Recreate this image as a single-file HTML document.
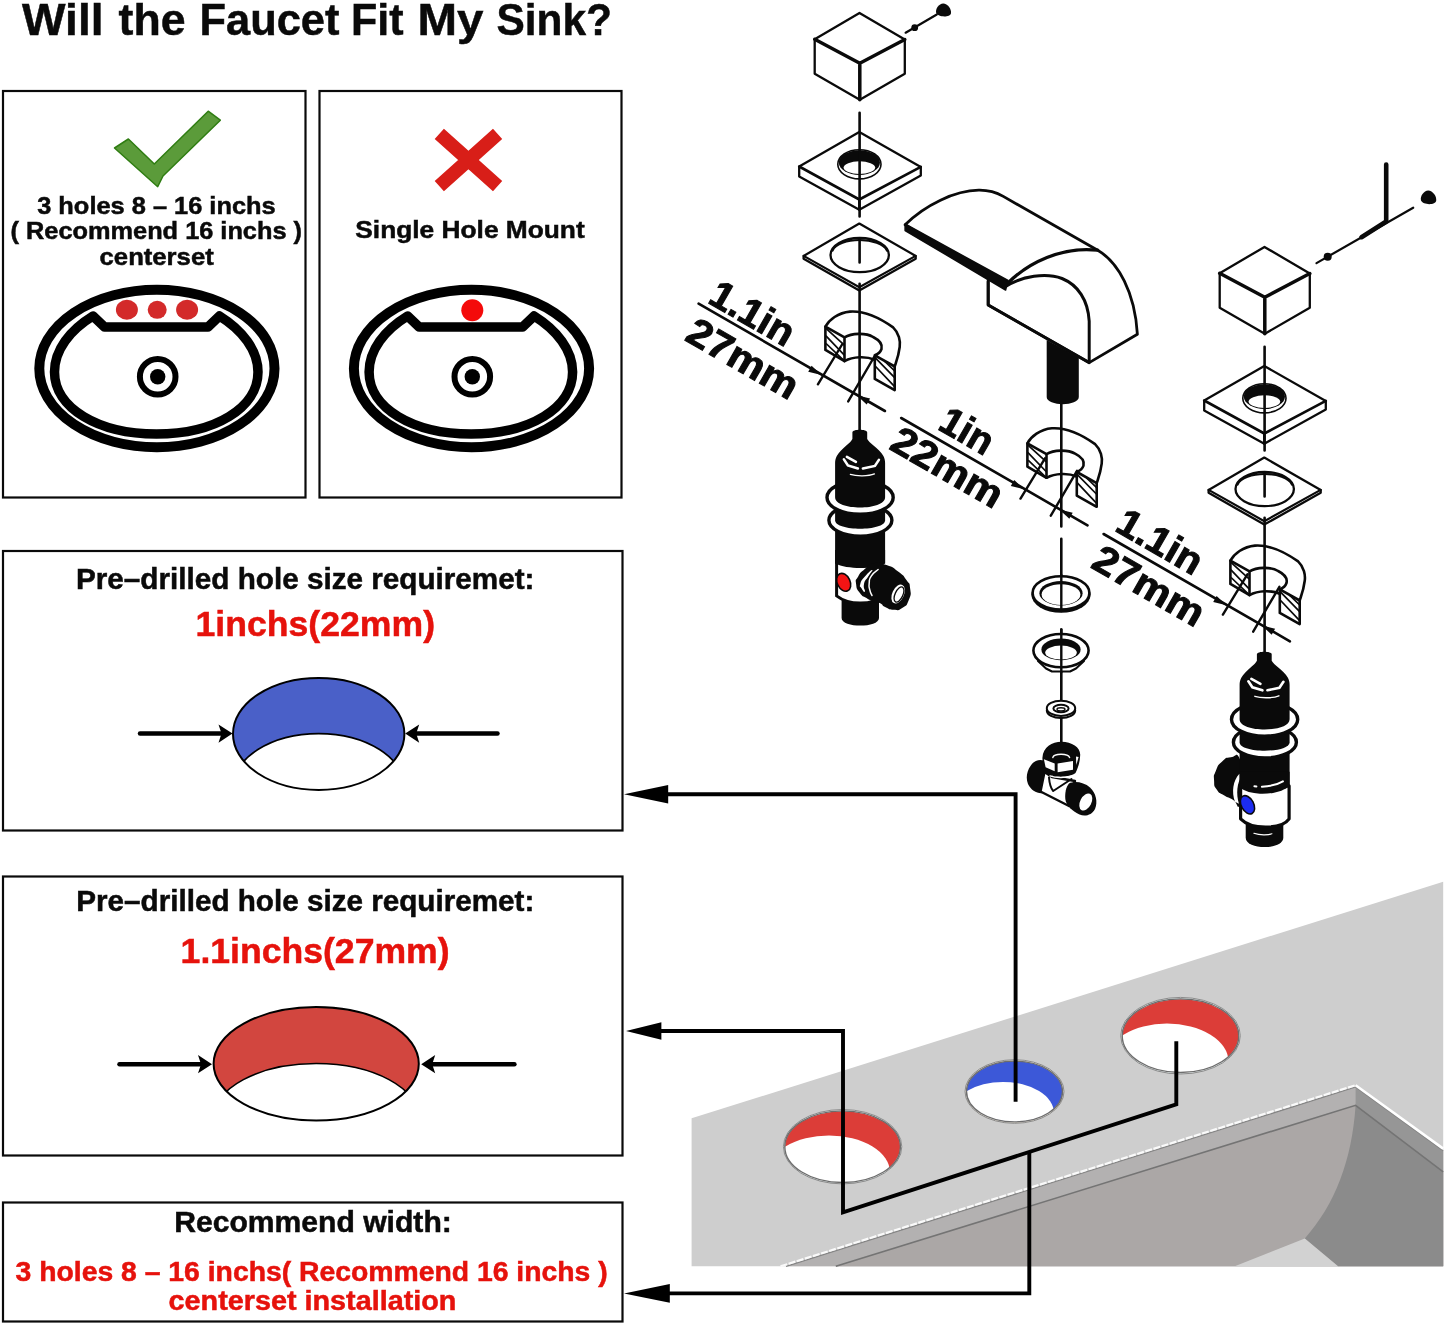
<!DOCTYPE html>
<html lang="en">
<head>
<meta charset="utf-8">
<title>Will the Faucet Fit My Sink?</title>
<style>
html,body{margin:0;padding:0;background:#fff;}
body{width:1445px;height:1324px;overflow:hidden;}
svg{display:block;will-change:transform;transform:translateZ(0);}
text{font-family:"Liberation Sans",sans-serif;font-weight:bold;}
.k{fill:#0a0a0a;}
text.k{stroke:#0a0a0a;stroke-width:.5px;}
text.r{stroke:#e6120c;stroke-width:.5px;}
g.k text{stroke:#0a0a0a;stroke-width:1px;}
.r{fill:#e6120c;}
.ln{fill:none;stroke:#0a0a0a;stroke-width:2.5;stroke-linejoin:round;stroke-linecap:round;}
.ln3{fill:none;stroke:#0a0a0a;stroke-width:3.5;stroke-linejoin:round;stroke-linecap:round;}
.th{fill:none;stroke:#0a0a0a;stroke-width:2.2;stroke-linecap:round;}
.w{fill:#fff;stroke:#0a0a0a;stroke-width:2.3;stroke-linejoin:round;}
.box{fill:#fff;stroke:#0a0a0a;stroke-width:2.2;}
.ar{fill:none;stroke:#000;stroke-width:3.9;stroke-linejoin:miter;}
</style>
</head>
<body>
<svg width="1445" height="1324" viewBox="0 0 1445 1324">
<rect width="1445" height="1324" fill="#fff"/>
<!-- ===== Title ===== -->
<text y="34.6" font-size="45" class="k"><tspan x="22" textLength="81.5" lengthAdjust="spacingAndGlyphs">Will</tspan> <tspan x="118.6" textLength="67" lengthAdjust="spacingAndGlyphs">the</tspan> <tspan x="199.5" textLength="140" lengthAdjust="spacingAndGlyphs">Faucet</tspan> <tspan x="351" textLength="52.5" lengthAdjust="spacingAndGlyphs">Fit</tspan> <tspan x="417.5" textLength="66" lengthAdjust="spacingAndGlyphs">My</tspan> <tspan x="496.5" textLength="115.5" lengthAdjust="spacingAndGlyphs">Sink?</tspan></text>

<!-- ===== Box 1 : 3 holes ===== -->
<rect class="box" x="3" y="91" width="302.5" height="406.5"/>
<path d="M114.5,148 L128.4,139 L154.3,164 L208.2,111.2 L220.3,120.2 L163,176 L157.7,186.7 Z" fill="#5b9b3a" stroke="#2f7d12" stroke-width="1.5" stroke-linejoin="round"/>
<text x="37.2" y="213.7" font-size="24.3" textLength="238.5" lengthAdjust="spacingAndGlyphs" class="k">3 holes 8 – 16 inchs</text>
<text x="10.6" y="239.1" font-size="24.3" textLength="291.4" lengthAdjust="spacingAndGlyphs" class="k">( Recommend 16 inchs )</text>
<text x="99.6" y="264.6" font-size="24.3" textLength="114.1" lengthAdjust="spacingAndGlyphs" class="k">centerset</text>
<g id="sinkA">
  <ellipse cx="156.9" cy="368.5" rx="117.6" ry="78.8" fill="none" stroke="#000" stroke-width="10"/>
  <path d="M93,316 C70,330 54.5,350 54.5,372 C54.5,408 98,434 156.5,434 C215,434 258,408 258,372 C258,350 242,330 219.5,316 L208,327 L104.5,327 Z" fill="none" stroke="#000" stroke-width="9.5" stroke-linejoin="round" stroke-linecap="round"/>
  <circle cx="157.7" cy="376.7" r="17.8" fill="#fff" stroke="#000" stroke-width="6"/>
  <circle cx="157.7" cy="376.7" r="7.7" fill="#000"/>
</g>
<ellipse cx="126.9" cy="309.8" rx="11" ry="10" fill="#d32a2a"/>
<ellipse cx="157.2" cy="309.8" rx="9.5" ry="9" fill="#d32a2a"/>
<ellipse cx="187.1" cy="309.8" rx="11" ry="10" fill="#d32a2a"/>

<!-- ===== Box 2 : single hole ===== -->
<rect class="box" x="319.5" y="91" width="302" height="406.5"/>
<path d="M439.3,133.8 L497.6,186.2 M497.6,133.8 L439.3,186.2" fill="none" stroke="#d81e18" stroke-width="13.8" stroke-linecap="butt"/>
<text x="355.3" y="237.6" font-size="24.3" textLength="229.4" lengthAdjust="spacingAndGlyphs" class="k">Single Hole Mount</text>
<g transform="translate(314.6,0)">
  <ellipse cx="156.9" cy="368.5" rx="117.6" ry="78.8" fill="none" stroke="#000" stroke-width="10"/>
  <path d="M93,316 C70,330 54.5,350 54.5,372 C54.5,408 98,434 156.5,434 C215,434 258,408 258,372 C258,350 242,330 219.5,316 L208,327 L104.5,327 Z" fill="none" stroke="#000" stroke-width="9.5" stroke-linejoin="round" stroke-linecap="round"/>
  <circle cx="157.7" cy="376.7" r="17.8" fill="#fff" stroke="#000" stroke-width="6"/>
  <circle cx="157.7" cy="376.7" r="7.7" fill="#000"/>
</g>
<circle cx="472.3" cy="310.3" r="11" fill="#f40a0a"/>

<!-- ===== Box 3 : 22mm ===== -->
<rect class="box" x="3" y="551" width="619.5" height="279.5"/>
<text x="76" y="589.3" font-size="29.6" textLength="458.5" lengthAdjust="spacingAndGlyphs" class="k">Pre–drilled hole size requiremet:</text>
<text x="195.5" y="635.8" font-size="35.5" textLength="239.5" lengthAdjust="spacingAndGlyphs" class="r">1inchs(22mm)</text>
<clipPath id="cpB"><ellipse cx="318.7" cy="733.9" rx="85.7" ry="56"/></clipPath>
<ellipse cx="318.7" cy="733.9" rx="85.7" ry="56" fill="#4a60c8"/>
<ellipse cx="318.7" cy="788" rx="86" ry="54.4" fill="#fff" stroke="#000" stroke-width="1.6" clip-path="url(#cpB)"/>
<ellipse cx="318.7" cy="733.9" rx="85.7" ry="56" fill="none" stroke="#000" stroke-width="2"/>
<path d="M140,733.6 H222" class="ar" style="stroke-width:4.5" stroke-linecap="round"/>
<path d="M232.5,733.6 L218.5,724.5 L221.5,733.6 L218.5,742.7 Z" fill="#000"/>
<path d="M497.5,733.6 H416" class="ar" style="stroke-width:4.5" stroke-linecap="round"/>
<path d="M405.2,733.6 L419.2,724.5 L416.2,733.6 L419.2,742.7 Z" fill="#000"/>

<!-- ===== Box 4 : 27mm ===== -->
<rect class="box" x="3" y="876.5" width="619.5" height="279"/>
<text x="76.3" y="911" font-size="29.6" textLength="458" lengthAdjust="spacingAndGlyphs" class="k">Pre–drilled hole size requiremet:</text>
<text x="180.6" y="963" font-size="35.5" textLength="269" lengthAdjust="spacingAndGlyphs" class="r">1.1inchs(27mm)</text>
<clipPath id="cpR"><ellipse cx="316.2" cy="1063.7" rx="102.6" ry="56.7"/></clipPath>
<ellipse cx="316.2" cy="1063.7" rx="102.6" ry="56.7" fill="#d2463f"/>
<ellipse cx="316.2" cy="1118.5" rx="103" ry="55" fill="#fff" stroke="#000" stroke-width="1.6" clip-path="url(#cpR)"/>
<ellipse cx="316.2" cy="1063.7" rx="102.6" ry="56.7" fill="none" stroke="#000" stroke-width="2"/>
<path d="M119.5,1064.2 H201" class="ar" style="stroke-width:4.5" stroke-linecap="round"/>
<path d="M212,1064.2 L198,1055.1 L201,1064.2 L198,1073.3 Z" fill="#000"/>
<path d="M514.4,1064.2 H432" class="ar" style="stroke-width:4.5" stroke-linecap="round"/>
<path d="M421.2,1064.2 L435.2,1055.1 L432.2,1064.2 L435.2,1073.3 Z" fill="#000"/>

<!-- ===== Box 5 : recommend ===== -->
<rect class="box" x="3" y="1202.5" width="619.5" height="119"/>
<text x="174.2" y="1232.2" font-size="29.2" textLength="277.6" lengthAdjust="spacingAndGlyphs" class="k">Recommend width:</text>
<text x="15.6" y="1281.2" font-size="26.8" textLength="592" lengthAdjust="spacingAndGlyphs" class="r">3 holes 8 – 16 inchs( Recommend 16 inchs )</text>
<text x="168.6" y="1309.7" font-size="26.8" textLength="287.8" lengthAdjust="spacingAndGlyphs" class="r">centerset installation</text>
<!-- ===== 3D sink ===== -->
<g>
  <path d="M691.6,1118.3 L1443.2,881.7 L1443.2,1266.3 L691.6,1266.3 Z" fill="#cecece"/>
  <path d="M786,1266.3 L1355.6,1087 L1443.2,1150.8 L1443.2,1266.3 Z" fill="#b3b1b1"/>
  <path d="M1355.6,1087 L1443.2,1150.8 L1443.2,1171.8 L1355.6,1105.3 Z" fill="#969696"/>
  <path d="M835.8,1266.3 L1355.6,1105.3 L1443.2,1171.8 L1443.2,1266.3 Z" fill="#aba7a6"/>
  <path d="M1355.6,1105.3 L1443.2,1171.8 L1443.2,1266.3 L1338,1266.3 L1304.8,1238.4 C1335,1205 1352,1160 1355.6,1105.3 Z" fill="#8b8b8b"/>
  <path d="M1234.8,1266.3 L1304.8,1238.4 L1338,1266.3 Z" fill="#d2d2d2"/>
  <path d="M786,1266.3 L1355.6,1087 L1443.2,1150.8" fill="none" stroke="#858585" stroke-width="1.3"/>
  <path d="M780.5,1266.3 L1355.6,1085.2" fill="none" stroke="#fafafa" stroke-width="2.2" stroke-dasharray="7 1.5"/>
  <path d="M1355.6,1085.2 L1443.2,1148.6" fill="none" stroke="#fff" stroke-width="2.6"/>
  <path d="M835.8,1266.3 L1355.6,1105.3 L1443.2,1171.8" fill="none" stroke="#747474" stroke-width="1.6"/>
  <!-- hole left (red) -->
  <clipPath id="h1"><ellipse cx="842.6" cy="1146.7" rx="58" ry="36"/></clipPath>
  <ellipse cx="842.6" cy="1146.7" rx="59.2" ry="37.2" fill="#e9f2f2" stroke="#8a8a8a" stroke-width="1"/>
  <ellipse cx="842.6" cy="1146.7" rx="57.5" ry="35.5" fill="#dc3d38"/>
  <ellipse cx="829" cy="1172.5" rx="61" ry="37" fill="#fff" clip-path="url(#h1)"/>
  <ellipse cx="842.6" cy="1146.7" rx="57.8" ry="35.8" fill="none" stroke="#6d6d6d" stroke-width="1.4"/>
  <!-- hole middle (blue) -->
  <clipPath id="h2"><ellipse cx="1014.5" cy="1091.5" rx="48" ry="30.4"/></clipPath>
  <ellipse cx="1014.5" cy="1091.5" rx="49.5" ry="31.8" fill="#efe9dd" stroke="#8a8a8a" stroke-width="1"/>
  <ellipse cx="1014.5" cy="1091.5" rx="47.8" ry="30.2" fill="#3c58d8"/>
  <ellipse cx="1003" cy="1113" rx="51" ry="31" fill="#fff" clip-path="url(#h2)"/>
  <ellipse cx="1014.5" cy="1091.5" rx="48" ry="30.4" fill="none" stroke="#6d6d6d" stroke-width="1.4"/>
  <!-- hole right (red) -->
  <clipPath id="h3"><ellipse cx="1180.5" cy="1035.7" rx="58.5" ry="37"/></clipPath>
  <ellipse cx="1180.5" cy="1035.7" rx="59.8" ry="38.3" fill="#e9f2f2" stroke="#8a8a8a" stroke-width="1"/>
  <ellipse cx="1180.5" cy="1035.7" rx="58" ry="36.5" fill="#dc3d38"/>
  <ellipse cx="1167" cy="1061.5" rx="61.5" ry="38" fill="#fff" clip-path="url(#h3)"/>
  <ellipse cx="1180.5" cy="1035.7" rx="58.3" ry="36.8" fill="none" stroke="#6d6d6d" stroke-width="1.4"/>
</g>
<!-- ===== Connector arrows ===== -->
<path d="M1015.6,1101.8 V794.3 H660" class="ar"/>
<path d="M624,794.3 L668.2,785 V803.6 Z" fill="#000"/>
<path d="M1176.3,1041.2 V1104.4 L843,1212.3 V1031 H655" class="ar"/>
<path d="M626,1031 L661.4,1022.3 V1039.7 Z" fill="#000"/>
<path d="M1029.3,1152 V1293.4 H660" class="ar"/>
<path d="M624,1293.4 L669.8,1284.1 V1302.7 Z" fill="#000"/>
<!-- ===== Exploded faucet diagram ===== -->
<defs>
  <g id="cube">
    <path class="w" d="M859.5,12.9 L904.8,39.5 L904.8,73.8 L859.8,99.7 L814.7,73.8 L814.7,39.3 Z"/>
    <path class="ln3" d="M814.7,39.3 L859.8,63.2 L904.8,39.5 M859.8,63.2 V99.7"/>
  </g>
  <g id="plate1">
    <path class="w" d="M859.3,132 L920.8,166.9 L920.8,175.5 L859.3,209.7 L799.2,176.4 L799.2,166.5 Z"/>
    <path class="ln3" d="M799.2,166.5 L859.3,199.5 L920.8,166.9" style="stroke-width:2.6"/>
    <path class="ln" d="M859.3,199.5 V209.7"/>
    <ellipse cx="859.4" cy="164.3" rx="21.6" ry="14.6" class="w" style="stroke-width:1.6"/>
    <ellipse cx="859.4" cy="162.6" rx="20.6" ry="12.4" fill="#0a0a0a"/>
    <ellipse cx="859.4" cy="167.6" rx="15.8" ry="6.3" fill="#fff"/>
  </g>
  <g id="plate2">
    <path class="w" d="M859.3,223.6 L915.7,255.9 L915.7,258.8 L859.3,290.6 L803.6,258.8 L803.6,255.9 Z"/>
    <path class="th" d="M803.6,255.9 L859.3,287.2 L915.7,255.9"/>
    <ellipse cx="859.7" cy="255.1" rx="29.2" ry="17.1" class="w"/>
    <path class="th" d="M832.5,250.5 C838,236.5 881,236.5 887,250.5"/>
  </g>
  <g id="collar">
    <path class="w" style="stroke-width:2.6" d="M825.4,326.6 C829,320 838,312.6 849.9,311.6 C866,310.5 882,319.5 893.1,327.4 C899,333 900.6,341.5 899.7,347 C898.6,356 896.5,361 894.7,366.5 L894.7,390.1 L874.8,378.9 L874.8,359.8 C866,356 853.2,356.5 844.5,361.1 L825.4,349.9 Z"/>
    <path class="ln" style="stroke-width:2.6" d="M825.4,326.6 L844.5,337.4 V361.1 M844.5,337.4 C851.5,333 866,332.6 873.1,337 C880,340.5 882.5,345 881.5,349 C880.5,352 878,354 874.8,355.3 L894.7,366.5 M874.8,355.3 V360"/>
    <path class="th" style="stroke-width:1.7" d="M826.2,328.7 L844.1,344.9 M826.2,336.1 L844.1,354.8 M826.6,344 L843.2,359.8 M875.6,358.2 L894.4,377.3 M875.6,366.5 L894.4,386.4 M884.8,361.5 L894.4,370.6"/>
  </g>
  <g id="dim">
    <path class="th" style="stroke-width:2.6" d="M698.6,303.7 L884.9,411"/>
    <path class="th" style="stroke-width:2.4" d="M842.4,344 L817.9,384.3 M874.4,356.5 L848.2,401.4"/>
    <path class="k" d="M821.5,374.9 L808.2,371.7 L811.6,365.7 Z"/>
    <path class="k" d="M856.8,395.2 L870.1,398.4 L866.7,404.4 Z"/>
  </g>
</defs>

<!-- left column -->
<use href="#cube"/>
<use href="#plate1"/>
<use href="#plate2"/>
<use href="#collar"/>
<path class="th" style="stroke-width:2.6" d="M859.6,112.7 V216.5 M859.6,239.6 V262.4 M859.6,283.8 V432"/>
<path class="th" d="M905.6,32.7 L936.8,14.5"/>
<circle class="k" cx="914.7" cy="27.7" r="3.4"/>
<path id="shead" class="k" d="M943.2,3.4 C947.6,3.8 951.6,8.6 951,13.2 C950.2,17.6 938.2,17.4 936.2,13 C935,8.8 939,3.8 943.2,3.4 Z"/>

<!-- right column -->
<g transform="translate(405,234)">
  <use href="#cube"/>
  <use href="#plate1"/>
  <use href="#plate2"/>
  <use href="#collar"/>
  <path class="th" style="stroke-width:2.6" d="M859.6,112.7 V216.5 M859.6,239.6 V262.4 M859.6,283.8 V420"/>
</g>
<path class="th" d="M1316.5,263.1 L1413.2,207.7"/>
<circle class="k" cx="1327.7" cy="256.8" r="4"/>
<path class="k" d="M1428.2,190.6 C1432.8,191 1436.8,196 1436.2,200.8 C1435.4,205.4 1423,205.2 1421,200.6 C1419.8,196.2 1423.8,191 1428.2,190.6 Z"/>
<path d="M1386.2,164.5 V221.5 L1361.5,237.2" fill="none" stroke="#0a0a0a" stroke-width="4.6" stroke-linecap="round" stroke-linejoin="round"/>

<!-- middle column -->
<use href="#collar" transform="translate(202,116.7)"/>
<path class="th" style="stroke-width:2.6" d="M1061.3,400 V526.5 M1061.3,538.8 V607.7 M1061.3,629.5 V748"/>

<!-- spout -->
<path class="w" style="stroke-width:2.8" d="M905.1,224.8 C925,205 955,190.5 978.7,190.2 C990,190 997,192.8 1003.3,196.4 L1097.7,250.2 C1118,262 1135,292 1137.4,334.3 L1089.2,362.6 L988.2,305 V278 Z"/>
<path class="ln" style="stroke-width:3" d="M988.2,281.4 V305 L1089.2,362.6 V321.1 C1088,300 1078,285 1062,278.5 C1046,272.5 1022,276 1005.6,286.5"/>
<path class="ln" style="stroke-width:3.2" d="M1008,283 C1028,263 1062,246 1097.7,250.2"/>
<path class="k" d="M905.1,224 L1008,280.5 L1005.6,290 L905.1,230.5 Z" stroke="#0a0a0a" style="stroke-width:1.5" stroke-linejoin="round"/>
<path class="k" d="M1046.7,340 L1078.8,357.5 V397 C1078.8,406.5 1046.7,406.5 1046.7,397 Z"/>

<!-- washers -->
<ellipse class="k" cx="1061" cy="594.6" rx="29.6" ry="18.2"/>
<ellipse class="w" cx="1061" cy="592.9" rx="28.4" ry="16.6" style="stroke-width:2.6"/>
<ellipse class="k" cx="1061" cy="593.2" rx="21.6" ry="12.2"/>
<ellipse cx="1061" cy="594.6" rx="19.4" ry="10.4" fill="#fff"/>
<path class="th" style="stroke-width:2.4" d="M1061.3,575 V611"/>

<path class="w" d="M1038,661 L1046,668.5 L1052,671.5 H1070 L1076,668.5 L1084,661 Z" style="stroke-width:2"/>
<ellipse class="w" cx="1061" cy="650.6" rx="27.6" ry="16.6" style="stroke-width:2.6"/>
<ellipse class="k" cx="1061" cy="649.4" rx="19.6" ry="10.8"/>
<ellipse cx="1061" cy="652.6" rx="15.8" ry="7" fill="#fff"/>
<path class="th" style="stroke-width:2.4" d="M1061.3,629.5 V672"/>

<ellipse class="w" cx="1061" cy="710.5" rx="14.2" ry="7.6" style="stroke-width:2"/>
<ellipse class="w" cx="1061" cy="708.3" rx="14.2" ry="7.6" style="stroke-width:2"/>
<ellipse class="w" cx="1061" cy="708.5" rx="7.6" ry="3.8" style="stroke-width:2"/>
<ellipse class="w" cx="1061" cy="709.3" rx="4" ry="1.6" style="stroke-width:1.4"/>

<!-- T fitting -->
<g>
  <path class="k" d="M1030.5,766 C1034.5,759 1042,758.5 1047,762 L1046,792 C1040,795.5 1031.5,791.5 1028,784 C1025.5,778 1027,771 1030.5,766 Z"/>
  <path class="w" d="M1044.5,772 L1052,777 L1075,781 L1069,806 L1040.5,791.5 Z" style="stroke-width:2.4"/>
  <path class="ln" style="stroke-width:2" d="M1049,777.5 C1049.5,784 1051,788.5 1053.2,791 L1071.5,779"/>
  <path class="k" d="M1042.4,758 C1043,747 1052,741.8 1061.5,741.8 C1072,741.8 1080.5,747.5 1080.2,755 C1080,762 1078,768 1075.5,773 C1071,777.5 1052,778 1047,773.5 C1044,769 1042.5,763 1042.4,758 Z"/>
  <path d="M1043.9,759.3 L1054.7,763.4 V771.3 L1045.6,767.3 Z" fill="#fff"/>
  <path d="M1057.6,763.4 L1073,760.9 V769.7 L1057.6,772.2 Z" fill="#fff"/>
  <path d="M1076,756.5 L1078.6,757 L1076.3,765 Z" fill="#fff"/>
  <path d="M1052.8,757.5 C1054,753.2 1068,753.2 1069.6,757.5" fill="none" stroke="#fff" stroke-width="1.4" stroke-linecap="round"/>
  <path d="M1050,775.8 C1056,778.2 1066,778.2 1072.5,775.5" fill="none" stroke="#fff" stroke-width="1.3" stroke-linecap="round"/>
  <path class="k" d="M1069,783.5 C1074,780.5 1084,782 1090,787.5 C1096,793 1098,802 1095,809 C1092,815 1085,817 1079.5,814.5 C1073,811.5 1066,806 1065.3,799 C1064.8,793 1066,787 1069,783.5 Z"/>
  <ellipse cx="1085.8" cy="802" rx="5.6" ry="9.2" fill="#fff" transform="rotate(27 1085.8 802)"/>
</g>

<!-- dimension lines -->
<use href="#dim"/>
<use href="#dim" transform="translate(202.6,114.3)"/>
<use href="#dim" transform="translate(405,230.3)"/>

<g class="k" font-size="39">
  <text transform="translate(706.5,302) rotate(30)" textLength="91" lengthAdjust="spacingAndGlyphs">1.1in</text>
  <text transform="translate(683.5,339.5) rotate(30)" textLength="122" lengthAdjust="spacingAndGlyphs">27mm</text>
  <text transform="translate(936.5,428.4) rotate(30)" textLength="55.5" lengthAdjust="spacingAndGlyphs">1in</text>
  <text transform="translate(888,448.2) rotate(30)" textLength="122" lengthAdjust="spacingAndGlyphs">22mm</text>
  <text transform="translate(1113.5,529.9) rotate(30)" textLength="92.4" lengthAdjust="spacingAndGlyphs">1.1in</text>
  <text transform="translate(1089.5,566.8) rotate(30)" textLength="122" lengthAdjust="spacingAndGlyphs">27mm</text>
</g>
<!-- ===== Valves ===== -->
<defs>
  <g id="vtop">
    <path class="k" d="M-24.3,133.5 H25.7 V98 H-24.3 Z"/>
    <ellipse class="w" cx="1" cy="90.4" rx="31.5" ry="15.8" style="stroke-width:3.4"/>
    <path class="k" d="M-24.3,64 H25.7 V90.4 C25.7,101.7 -24.3,101.7 -24.3,90.4 Z"/>
    <ellipse class="w" cx="0.7" cy="67.6" rx="33.1" ry="16.8" style="stroke-width:3.4"/>
    <path class="k" d="M-7,2.5 C-7,-1 7.8,-1 7.8,2.5 V9 C9.5,11.5 11,13 13.5,15 C18,18.5 22,22.5 24,26 C25.2,28.5 25.7,30.5 25.7,33 V67.4 C25.7,81.1 -24.3,81.1 -24.3,67.4 V33 C-24.3,30.5 -23.8,28.5 -22.6,26 C-20.6,22.5 -16.6,18.5 -12.5,15 C-10,13 -8.5,11.5 -7,9 Z"/>
    <path d="M-15.5,29.5 L-11.5,35.5 L-1.5,38.5 M3.5,38.5 L15.5,36 L19.5,30 M-12.5,27 L-3.5,32" fill="none" stroke="#fff" stroke-width="2.6" stroke-linecap="round"/>
    <path d="M-9,44.5 C-3,46.5 9,46.5 15,44" fill="none" stroke="#fff" stroke-width="1.4" stroke-linecap="round"/>
  </g>
</defs>
<!-- left valve -->
<g transform="translate(859.4,429.9)">
  <path class="k" d="M-17.8,168 H19.6 V188 C19.6,198.2 -17.8,198.2 -17.8,188 Z"/>
  <path class="w" d="M-22.8,131 H22 V166 C14,175 -10,176 -22.8,166 Z" style="stroke-width:3"/>
  <use href="#vtop"/>
  <path class="k" d="M-24.3,120 H25.7 V133.5 C14,139.5 -12,139.5 -24.3,133.5 Z"/>
  <path d="M13.8,133.3 C21.0,131.9 18.8,132.2 27.1,135.0 C35.4,137.8 32.1,136.6 38.7,141.6 C45.3,146.6 43.0,144.4 47.0,150.0 C51.0,155.6 49.9,151.7 50.7,158.3 C51.5,164.9 52.1,163.3 49.5,169.9 C46.9,176.5 47.8,174.9 42.8,178.2 C37.8,181.5 40.0,180.2 34.5,179.9 C29.0,179.6 30.9,179.6 26.2,177.4 C21.5,175.2 24.5,175.1 20.4,173.2 C16.3,171.3 18.2,173.3 13.8,171.6 C9.4,169.9 11.5,171.0 7.1,168.2 C2.7,165.4 4.0,167.9 0.5,163.2 C-3.0,158.5 -2.7,159.6 -3.3,154.1 C-3.9,148.6 -4.1,151.6 -1.2,146.6 C1.7,141.6 0.4,143.6 5.4,139.2 C10.4,134.8 6.6,134.7 13.8,133.3 Z" class="k"/>
  <path d="M0.9,154.1 C2.0,150.2 1.5,151.3 5.5,146.6 C9.5,141.9 11.8,140.0 12.9,140.0 C14.0,140.0 11.6,141.9 8.8,146.6 C6.0,151.3 5.7,149.1 4.6,154.1 C3.5,159.1 6.3,160.2 5.5,161.6 C4.7,163.0 3.6,160.8 2.1,158.3 C0.6,155.8 -0.2,158.0 0.9,154.1 Z" fill="#fff"/>
  <path d="M18.7,139.6 C16.5,141.7 15.0,141.4 12.0,146.0 C9.0,150.6 10.3,148.6 9.8,153.3 C9.3,158.0 9.5,155.9 10.4,160.0 C11.3,164.1 11.9,163.8 12.6,165.7" fill="none" stroke="#fff" stroke-width="1.5" stroke-linecap="round"/>
  <ellipse cx="38.7" cy="164.1" rx="5.8" ry="10" fill="#fff" transform="rotate(25 38.7 164.1)"/>
  <ellipse cx="39.6" cy="164.6" rx="3.9" ry="8.2" fill="none" stroke="#0a0a0a" stroke-width="1.3" transform="rotate(25 39.6 164.6)"/>
  <ellipse cx="-15.7" cy="152.4" rx="7.2" ry="10.2" fill="#0a0a0a" transform="rotate(-25 -15.7 152.4)"/>
  <ellipse cx="-15.7" cy="152.4" rx="5.6" ry="8.6" fill="#f41414" transform="rotate(-25 -15.7 152.4)"/>
</g>
<!-- right valve -->
<g transform="translate(1263.9,651.8)">
  <path class="k" d="M-18.2,170 H19.4 V186 C19.4,198.4 -18.2,198.4 -18.2,186 Z"/>
  <path d="M-10,181.5 C-4,183.5 4,183.5 8,182" fill="none" stroke="#fff" stroke-width="1.2" stroke-linecap="round"/>
  <path d="M-24.0,107.5 C-27.7,99.3 -27.0,104.7 -33.0,105.5 C-39.0,106.3 -37.0,105.5 -42.0,110.0 C-47.0,114.5 -45.4,112.7 -48.0,119.0 C-50.6,125.3 -50.1,122.7 -49.8,129.0 C-49.5,135.3 -50.3,133.2 -47.0,138.0 C-43.7,142.8 -45.3,140.2 -40.0,143.5 C-34.7,146.8 -36.3,144.8 -31.0,148.0 C-25.7,151.2 -27.0,159.0 -24.0,153.0 C-21.0,147.0 -22.0,145.2 -22.0,130.0 C-22.0,114.8 -20.3,115.7 -24.0,107.5 Z" class="k"/>
  <path d="M-24.5,122 C-31,129 -32.5,140 -29,150 L-25,152 C-28,142 -27,131 -22,124 Z" fill="#fff"/>
  <path class="w" d="M-23.3,134 H25.2 V167 C18,177.5 -12,178.5 -23.3,167 Z" style="stroke-width:3.2"/>
  <use href="#vtop"/>
  <path class="k" d="M-24.3,120 H25.7 V134 C20,139.5 8,142.5 -4,142 C-12,141.5 -19,139.5 -24.3,136 Z"/>
  <path d="M-9.5,134.5 L-7.5,134.6 M-2,135 C6,134.5 14,132.5 19,129.5" fill="none" stroke="#fff" stroke-width="2" stroke-linecap="round"/>
  <ellipse cx="-16.4" cy="153" rx="7" ry="10.6" fill="#0a0a0a" transform="rotate(-28 -16.4 153)"/>
  <ellipse cx="-16.4" cy="153" rx="5.4" ry="9" fill="#1c2cf0" transform="rotate(-28 -16.4 153)"/>
</g>
</svg>
</body>
</html>
